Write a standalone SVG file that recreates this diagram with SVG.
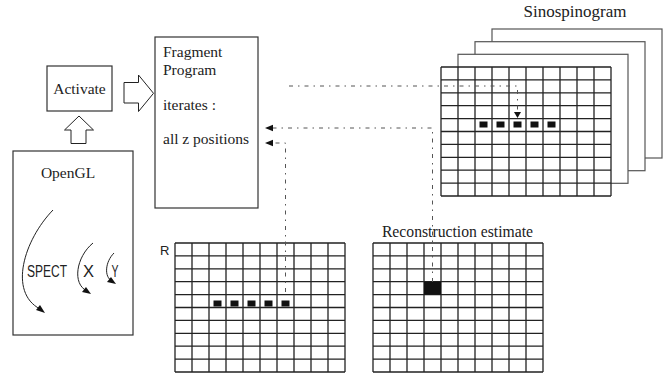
<svg xmlns="http://www.w3.org/2000/svg" xmlns:xlink="http://www.w3.org/1999/xlink" width="672" height="374" viewBox="0 0 672 374">
  <style>
    .box { fill: #fff; stroke: #333; stroke-width: 1.2; }
    .frame { fill: #fff; stroke: #555; stroke-width: 1.2; }
    .hollow { fill: #fff; stroke: #222; stroke-width: 1; stroke-linejoin: miter; }
    .serif { font-family: "Liberation Serif", "Times New Roman", serif; fill: #222; }
    .sans { font-family: "Liberation Sans", Arial, sans-serif; fill: #222; }
    .gridline { fill: none; stroke: #222; stroke-width: 1.3; }
    .dashdot { fill: none; stroke: #555; stroke-width: 1; stroke-dasharray: 4 5 1.5 5; }
    .curve { fill: none; stroke: #222; stroke-width: 1; }
    .head { fill: #111; }
    .cell { fill: #111; }
  </style>
  <defs>
    <!-- 10 x 10 cell grid, 170 x 129 -->
    <g id="grid10">
      <rect x="0" y="0" width="170" height="129" fill="#fff"/>
      <path class="gridline" d="M0 0V129M17 0V129M34 0V129M51 0V129M68 0V129M85 0V129M102 0V129M119 0V129M136 0V129M153 0V129M170 0V129M0 0H170M0 12.9H170M0 25.8H170M0 38.7H170M0 51.6H170M0 64.5H170M0 77.4H170M0 90.3H170M0 103.2H170M0 116.1H170M0 129H170"/>
    </g>
  </defs>

  <rect width="672" height="374" fill="#fff"/>

  <!-- OpenGL context box with its three rotation arcs -->
  <g id="opengl">
    <rect class="box" x="13" y="151" width="120" height="184"/>
    <text class="serif" x="68" y="178" font-size="15.5" text-anchor="middle">OpenGL</text>
    <path class="curve" d="M53 210C24 240 8 292 40 309"/>
    <polygon class="head" points="45,313 36,310 40,305"/>
    <path class="curve" d="M93 243C76 257 72 284 87 291"/>
    <polygon class="head" points="91,294 82,292 86,287"/>
    <path class="curve" d="M114 253C105 262 104 277 112 281"/>
    <polygon class="head" points="116,284 107,282 111,277"/>
    <text class="sans" x="27" y="277" font-size="16" textLength="40" lengthAdjust="spacingAndGlyphs">SPECT</text>
    <text class="sans" x="83" y="277" font-size="16" textLength="11" lengthAdjust="spacingAndGlyphs">X</text>
    <text class="sans" x="111.5" y="277" font-size="16" textLength="7" lengthAdjust="spacingAndGlyphs">Y</text>
  </g>

  <!-- Activate box -->
  <g id="activate">
    <rect class="box" x="47" y="66" width="65" height="45"/>
    <text class="serif" x="79.5" y="94" font-size="15.5" text-anchor="middle">Activate</text>
  </g>

  <!-- Fragment program box -->
  <g id="fragment">
    <rect class="box" x="155" y="37" width="103" height="171"/>
    <text class="serif" x="163" y="57" font-size="15.5">Fragment</text>
    <text class="serif" x="163" y="74.5" font-size="15.5">Program</text>
    <text class="serif" x="163" y="110" font-size="15.5">iterates :</text>
    <text class="serif" x="163" y="144" font-size="15.5">all z positions</text>
  </g>

  <!-- Stack of sinospinogram slices -->
  <g id="sinospinogram">
    <text class="serif" x="575" y="17" font-size="17" text-anchor="middle">Sinospinogram</text>
    <rect class="frame" x="492" y="29" width="170" height="129"/>
    <rect class="frame" x="475" y="41.7" width="170" height="129"/>
    <rect class="frame" x="458" y="54.3" width="170" height="129"/>
    <use xlink:href="#grid10" x="441" y="67"/>
    <rect class="cell" x="479.5" y="121.5" width="8" height="6"/>
    <rect class="cell" x="496.5" y="121.5" width="8" height="6"/>
    <rect class="cell" x="513.5" y="121.5" width="8" height="6"/>
    <rect class="cell" x="530.5" y="121.5" width="8" height="6"/>
    <rect class="cell" x="547.5" y="121.5" width="8" height="6"/>
  </g>

  <!-- R grid -->
  <g id="r-grid">
    <text class="sans" x="160" y="255" font-size="13">R</text>
    <use xlink:href="#grid10" x="175" y="243"/>
    <rect class="cell" x="213.5" y="300.5" width="8" height="6"/>
    <rect class="cell" x="230.5" y="300.5" width="8" height="6"/>
    <rect class="cell" x="247.5" y="300.5" width="8" height="6"/>
    <rect class="cell" x="264.5" y="300.5" width="8" height="6"/>
    <rect class="cell" x="281.5" y="300.5" width="8" height="6"/>
  </g>

  <!-- Reconstruction estimate grid -->
  <g id="reconstruction">
    <text class="serif" x="457.5" y="237" font-size="15.7" text-anchor="middle">Reconstruction estimate</text>
    <use xlink:href="#grid10" x="373" y="243"/>
    <rect class="cell" x="424" y="281.7" width="17" height="12.9"/>
  </g>

  <!-- Connectors -->
  <g id="connectors">
    <!-- hollow block arrows -->
    <polygon class="hollow" points="79,116 93.5,130 86,130 86,143.5 71,143.5 71,130 64.5,130"/>
    <polygon class="hollow" points="124,82.5 138.5,82.5 138.5,75 153.5,93.3 138.5,111.5 138.5,103 124,103"/>
    <!-- fragment program to sinospinogram -->
    <path class="dashdot" d="M289 86H517.5V112"/>
    <polygon class="head" points="514,112 521,112 517.5,118"/>
    <!-- reconstruction estimate back to fragment program -->
    <path class="dashdot" d="M432.5 282V128H272"/>
    <polygon class="head" points="265,128 273,124.8 273,131.2"/>
    <!-- R back to fragment program -->
    <path class="dashdot" d="M285.5 292V143H272"/>
    <polygon class="head" points="265,143 273,139.8 273,146.2"/>
  </g>
</svg>
